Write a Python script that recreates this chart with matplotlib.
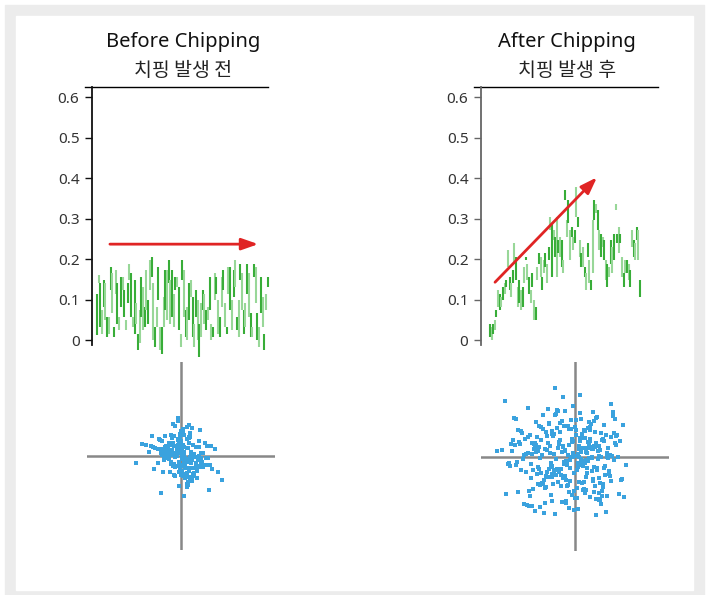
import matplotlib
matplotlib.use('Agg')
import matplotlib.pyplot as plt
import numpy as np
from matplotlib.patches import Rectangle

plt.rcParams['font.family'] = ['Noto Sans', 'Noto Sans CJK KR', 'DejaVu Sans']

# titles
titles_en = ['Before Chipping', 'After Chipping']
titles_ko = ['치핑 발생 전', '치핑 발생 후']
ytick_vals = [0, 0.1, 0.2, 0.3, 0.4, 0.5, 0.6]
ytick_labels = ['0', '0.1', '0.2', '0.3', '0.4', '0.5', '0.6']

# vibration signal before chipping: each stroke goes from lo to hi
before_hi = [.115, .160, .140, .074, .148, .140, .058, .058, .181, .165, .033, .173, .140, .058, .156,
             .156, .123, .049, .140, .189, .165, .058, .148, .091, .016, .074, .156, .132, .082, .173,
             .099, .198, .206, .140, .033, .082, .181, .033, .033, .107, .173, .173, .198, .148, .173,
             .115, .156,
             .156, .132, .016, .198, .173, .074, .082, .140, .148, .107, .041, .123, .099, .041, .091,
             .123, .115, .074, .082, .156, .041, .033, .165, .156, .099, .058, .156, .173, .091, .033,
             .181, .181, .099, .173, .198, .058, .099, .189, .165, .074, .091, .189, .165, .066, .033,
             .189, .181, .066, .033, .156, .107, .016, .115, .156]
before_lo = [.012, .140, .033, .016, .082, .049, .008, .016, .123, .066, .008, .115, .041, .025, .082,
             .123, .058, .025, .091, .148, .058, .033, .016, .041, -.025, -.008, .058, .025, .033, .074,
             .041, .123, .156, .000, -.016, .033, .099, -.025, -.033, .033, .074, .049, .140, .041, .058,
             .033, .123,
             .132, .025, -.016, .148, .058, .008, .000, .049, .107, .008, -.016, .058, .000, -.041, .008,
             .074, .041, .025, .049, .074, .000, .008, .099, .115, .016, .008, .082, .123, .033, .016,
             .115, .074, .025, .107, .132, .025, .008, .148, .074, .016, .033, .115, .058, .008, .008,
             .156, .091, .000, -.016, .066, .033, -.025, .074, .132]

# vibration signal after chipping
after_hi = [.041, .033, .041, .049, .074, .123, .115, .107, .132, .140, .148, .222, .156, .140, .173,
            .239, .205, .132, .148, .123, .132, .181, .205, .189, .156, .123, .165, .099, .082, .181,
            .214, .205, .156, .198, .214, .189, .230, .305, .288, .272, .255, .305, .247,
            .255, .247, .198, .370, .296, .346, .272, .280, .255, .272, .379, .305, .247, .214, .230,
            .181, .165, .239, .198, .148, .296, .346, .337, .321, .272, .263, .255, .247, .198, .189,
            .181, .247, .230, .263, .337, .263, .280, .263, .206, .165, .198, .198, .189, .173, .272,
            .247, .239, .280, .272, .148]
after_lo = [.008, .000, .016, .025, .058, .082, .074, .082, .099, .115, .132, .181, .123, .107, .140,
            .189, .148, .082, .091, .074, .082, .140, .198, .148, .115, .091, .132, .049, .049, .148,
            .189, .156, .123, .165, .181, .140, .198, .272, .156, .247, .206, .156, .214,
            .206, .181, .165, .346, .255, .288, .198, .255, .222, .239, .305, .280, .206, .181, .181,
            .156, .123, .206, .140, .123, .165, .296, .313, .272, .222, .206, .230, .198, .148, .132,
            .156, .189, .165, .198, .321, .239, .214, .239, .156, .132, .165, .165, .148, .132, .230,
            .206, .198, .247, .198, .107]

# vibration orbit (x/y displacement in pixel-like units, ~94 units = crosshair half-width)
before_dx = [3, -8, 12, -2, 5, -15, 7, 0, -6, 18, -11, 2, 9, -4, 14, -19, 6, -1, 10, -7,
             22, -3, 4, -12, 8, -25, 1, 16, -9, 3, -5, 11, -14, 7, -2, 20, -17, 5, 0, -10,
             13, -6, 2, 28, -4, 9, -21, 6, -8, 1, 15, -3, -13, 4, 10, -7, 24, -1, 8, -16,
             3, -11, 17, -5, 6, -29, 12, -2, 1, -9, 19, -4, 7, -14, 0, 11, -6, 27, -18, 5,
             -3, 9, -12, 2, 14, -8, 4, -23, 10, -1, 6, -15, 21, -7, 3, -10, 8, -2, 16, -5,
             -35, 12, 1, -9, 5, 18, -13, 7, -4, 25, -20, 2, 9, -6, 13, -1, 4, -17, 11, -8,
             6, 30, -3, 15, -11, 0, 8, -24, 3, -7, 19, -14, 10, -2, 5, -9, 22, -16, 1, 7,
             -4, 12, -19, 6, -12, 2, 17, -6, 9, -27, 4, -1, 14, -10, 8, -3, 26, -8, 0, 11,
             -15, 5, -5, 20, -2, 13, -21, 3, -13, 7, 33, -7, 10, -4, 1, -18, 16, -9, 6, -1,
             9, -26, 4, 23, -11, 2, -6, 12, -3, 37, -14, 8, -8, 15, -31, 3, 18, -5, 7, -40]
before_dy = [-5, 10, 2, -14, 7, -3, 16, -9, 1, -6, 12, -18, 4, 9, -1, 6, -11, 20, -4, 3,
             -8, 14, -2, 5, -21, 8, -13, 0, 11, -7, 3, -16, 18, -3, 7, -10, 1, -25, 13, 4,
             -6, 9, 24, -12, 2, -4, 6, -19, 10, -1, -9, 15, 3, -7, -22, 12, -2, 5, 17, -14,
             8, 1, -10, 27, -5, 4, -15, 11, -3, 19, -8, 2, -12, 6, 22, -1, -17, 9, 3, -28,
             14, -6, 0, 10, -20, 5, -11, 7, -3, 16, -24, 2, 12, -9, 4, -14, 21, -5, 8, -1,
             11, -18, 3, -7, 26, -2, 9, -13, 5, -30, 15, 1, -6, 18, -10, 7, -4, 13, -16, 2,
             -23, 6, 10, -1, 4, -8, 20, -12, 1, 29, -5, 8, -19, 3, -15, 12, -2, 6, -9, 17,
             0, -11, 14, -26, 7, -3, 23, -7, 2, 9, -20, 5, -13, 11, -1, 31, -8, 4, -17, 10,
             -4, 15, -10, 3, -27, 8, -6, 19, -2, 12, -14, 1, 25, -9, 6, -33, 13, -5, 7, -12,
             2, 18, -16, 9, -3, 22, -7, 0, 34, -21, 5, -11, 16, -4, 10, -36, 3, -18, 28, -6]

after_dx = [-12, 25, -40, 8, -3, 33, -21, 15, -55, 4, -30, 18, -8, 41, -17, 2, -46, 27, -10, 12,
            -35, 6, 22, -62, -1, 14, -25, 37, -6, -48, 20, -14, 9, -38, 30, -4, -20, 45, -29, 3,
            -9, 16, -52, 24, -16, 7, -33, 35, -2, -43, 11, -24, 28, -68, 1, -13, 19, -36, 40, -7,
            -27, 5, -58, 23, -11, 31, -41, 13, -5, -19, 48, -31, 10, -50, 17, -15, 0, -37, 26, -22,
            -44, 8, 21, -28, 36, -10, -60, 14, -3, -34, 29, -18, 6, -47, 42, -8, -23, 18, -72, 3,
            -14, 34, -39, 9, -26, 50, -2, -53, 16, -12, 25, -32, 7, -45, 22, -20, 38, -6, -30, 12,
            -57, 4, -17, 27, -35, 15, -9, -64, 32, -25, 2, -42, 19, -11, 44, -28, 8, -49, 13, -4,
            -21, 39, -33, 6, -15, 24, -54, 11, -1, -40, 30, -19, 17, -66, 5, -8, 36, -29, 21, -44,
            10, -24, 47, -12, -37, 3, 28, -51, 14, -7, -31, 20, -16, 41, -59, 7, -22, 33, -3, -46,
            18, -10, -27, 52, -36, 1, 23, -61, 9, -18, 35, -40, 13, -5, -26, 26, -48, 4, -13, 30,
            -70, 15, -2, -34, 43, -20, 8, -43, 21, -9, -56, 29, -15, 11, -38, 37, -24, 2, -63, 17,
            -6, -29, 24, -47, 6, -11, 39, -32, 16, -52, 0, -19, 31, -41, 10, -75, 27, -14, 5, -36,
            19, -4, -45, 12, -23, 46, -8, -58, 22, -17, 3, -39, 34, -27, 9, -12, 28, -50, 15, -1,
            -33, 7, -65, 20, -21, 40, -9, -42, 14, -30, 25, -5, -55, 32, -16, 6, -37, 18, -80, 11,
            -2, 42, -25, 4, -48, 17, -13, 29, -35, 8, -60, 23, -7, -28, 37, -18, 13, -44, 1, -23,
            26, -31, 10, -53, 15, -6, 49, -38, 21, -15, -67, 5, -26, 33, -10, 19, -41, 2, -20, 7]
after_dy = [10, -22, 35, -5, 18, -40, 3, 27, -14, 8, -31, 45, -9, 14, -26, 1, 22, -48, 6, -17,
            30, -3, -12, 39, -35, 12, -7, 20, -52, 4, 25, -19, 9, -28, 16, -1, 42, -38, 7, -11,
            -24, 33, 2, -44, 13, -6, 28, -15, 51, -33, 5, -21, 17, -8, 37, -46, 11, -2, 24, -29,
            -13, 19, -36, 6, 31, -10, -55, 15, -4, 43, -23, 8, 26, -16, -1, 34, -42, 10, -27, 21,
            3, -34, 14, 48, -20, 7, -9, 29, -39, 2, 18, -13, 38, -50, 12, -5, 23, -25, 56, -7,
            -30, 9, -18, 27, 4, -41, 16, -3, 33, -22, 11, -57, 20, -8, 40, -14, 1, -36, 25, -12,
            15, -26, 46, -1, -17, 30, -45, 6, 22, -11, -32, 13, 36, -6, 0, -21, 19, -49, 9, 28,
            -15, 41, -28, 5, 17, -37, 24, -4, -54, 12, 32, -19, 8, -10, 44, -30, 2, 21, -43, 14,
            -7, 26, -24, 60, -13, 3, -35, 18, -2, 31, -47, 10, -16, 38, -6, 23, -28, 0, 15, -40,
            8, -20, 34, -9, -51, 27, -3, 12, -33, 47, -18, 5, 29, -25, 11, -44, 20, -1, 36, -12,
            -38, 16, 4, -27, 22, -58, 9, -14, 39, -5, 13, -31, 25, -21, 6, 53, -10, -42, 17, -2,
            28, -16, 1, -35, 19, -8, 45, -24, 10, -48, 30, -3, -19, 14, -37, 7, 24, -13, 62, -29,
            -11, 37, -22, 4, -45, 16, -6, 27, -14, 9, -53, 20, -2, 33, -26, 11, -40, 3, 18, -17,
            42, -9, 13, -30, 23, -4, -47, 8, 35, -20, 1, -12, 26, -56, 15, -7, 31, -23, 6, -34,
            -1, 21, -39, 11, 49, -15, 5, -28, 17, -10, 38, -43, 2, 14, -25, 29, -5, -50, 22, -18,
            7, -32, 19, -3, -41, 12, 32, -11, -59, 25, -7, 16, -21, 4, 46, -36, 9, -14, 70, -27]

# trend arrows (sample index, amplitude)
before_arrow = ((7.6, 0.237), (94.5, 0.237))
after_arrow = ((3.1, 0.143), (65.6, 0.402))

W, H = 707, 595
fig = plt.figure(figsize=(W / 100, H / 100), dpi=100)
fig.patches.append(Rectangle((5 / W, 0), 699 / W, 590 / H, transform=fig.transFigure,
                             color='#ececec', zorder=-10))
fig.patches.append(Rectangle((16 / W, 5 / H), 677 / W, 574 / H, transform=fig.transFigure,
                             color='white', zorder=-9))

green = ['#38ad38', '#98d798']
red = '#e02424'
blue = '#3aa2de'


def signal_plot(rect, hi, lo, xlim, arrow, spine_color, en, ko, cx):
    ax = fig.add_axes(rect)
    ax.patch.set_alpha(0)
    x = np.arange(len(hi))
    cols = [green[i % 2] for i in range(len(hi))]
    ax.vlines(x, lo, hi, colors=cols, lw=1.5, clip_on=False)
    ax.set_xlim(*xlim)
    ax.set_ylim(-0.012, 0.625)
    for s in ['top', 'right', 'bottom']:
        ax.spines[s].set_visible(False)
    ax.spines['left'].set_color(spine_color)
    ax.spines['left'].set_linewidth(1.3)
    ax.set_xticks([])
    ax.set_yticks(ytick_vals)
    ax.set_yticklabels(ytick_labels)
    ax.tick_params(axis='y', length=5, width=1, color=spine_color, labelsize=11,
                   labelcolor='#333333', pad=4)
    ax.plot([-0.04, 1], [1, 1], transform=ax.transAxes, color='black', lw=1, clip_on=False)
    ax.annotate('', xy=arrow[1], xytext=arrow[0],
                arrowprops=dict(arrowstyle='-|>,head_length=1.0,head_width=0.35', color=red,
                                lw=2, shrinkA=0, shrinkB=0))
    fig.text(cx / W, 1 - 42 / H, en, ha='center', va='center', fontsize=14.5, color='#111111')
    fig.text(cx / W, 1 - 71 / H, ko, ha='center', va='center', fontsize=14, color='#222222',
             family=['Noto Sans CJK KR', 'DejaVu Sans'])
    return ax


def orbit_plot(rect, dx, dy, unit, size):
    ax = fig.add_axes(rect)
    ax.patch.set_alpha(0)
    ax.set_xlim(-1, 1)
    ax.set_ylim(-1, 1)
    ax.axis('off')
    ax.axhline(0, color='#888888', lw=1.8, zorder=1)
    ax.axvline(0, color='#888888', lw=1.8, zorder=1)
    ax.scatter(np.array(dx) / unit, np.array(dy) / unit, s=size, marker='s', color=blue,
               linewidths=0, zorder=2)
    return ax


signal_plot([92 / W, 1 - 345 / H, 176 / W, 258 / H], before_hi, before_lo, (-2.9, 100.2),
            before_arrow, '#111111', titles_en[0], titles_ko[0], 183)
signal_plot([481 / W, 1 - 345 / H, 177 / W, 258 / H], after_hi, after_lo, (-5.5, 103),
            after_arrow, '#666666', titles_en[1], titles_ko[1], 567)

orbit_plot([87 / W, 1 - 550 / H, 188 / W, 188 / H], before_dx, before_dy, 84, 8)
orbit_plot([481 / W, 1 - 551 / H, 188 / W, 189 / H], after_dx, after_dy, 96, 7)

fig.savefig('out.png', dpi=100)
